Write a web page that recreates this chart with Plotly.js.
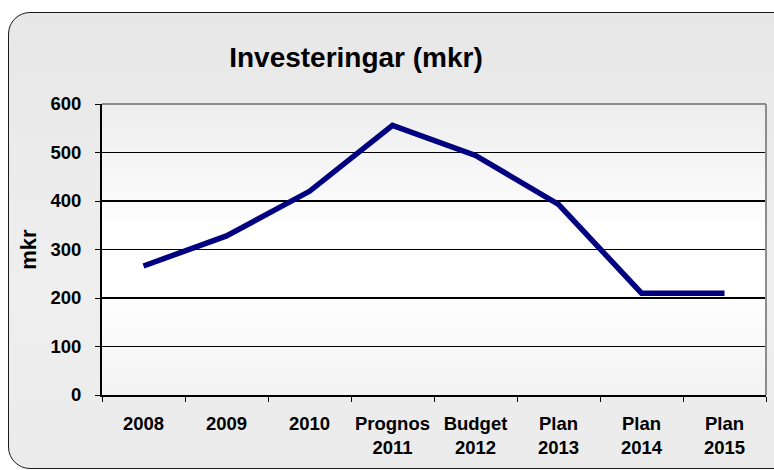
<!DOCTYPE html>
<html>
<head>
<meta charset="utf-8">
<script src="https://cdn.plot.ly/plotly-3.0.1.min.js"></script>
<style>
  html, body { margin: 0; padding: 0; background: #ffffff; }
  #wrap { position: relative; width: 774px; height: 470px; overflow: hidden; }
  #frame {
    position: absolute; left: 8px; top: 12px; width: 790px; height: 455px;
    border: 1.5px solid #1a1a1a; border-radius: 22px;
    background: linear-gradient(#e7e7e7, #efefef 60%, #ebebeb);
  }
  #plotbg {
    position: absolute; left: 102px; top: 104px; width: 664px; height: 291px;
    background: linear-gradient(#ededed, #ffffff 45%, #ffffff 65%, #f3f3f3);
  }
  #chart { position: absolute; left: 0; top: 0; width: 774px; height: 470px; }
</style>
</head>
<body>
<div id="wrap">
  <div id="frame"></div>
  <div id="plotbg"></div>
  <div id="chart"></div>
</div>
<script>
// Investeringar (mkr)
const categories = ["2008", "2009", "2010", "Prognos<br>2011", "Budget<br>2012",
  "Plan<br>2013", "Plan<br>2014", "Plan<br>2015"];
const values = [266, 328, 420, 556, 494, 393, 210, 210];
const yTicks = [0, 100, 200, 300, 400, 500, 600];

const chartEl = document.getElementById("chart");
const FONT = "Liberation Sans, Arial, sans-serif";

const data = [
  {
    x: categories,
    y: values,
    type: "scatter",
    mode: "lines",
    line: { color: "#000080", width: 5.5 },
    hoverinfo: "skip",
  },
];

const layout = {
  width: 774,
  height: 470,
  margin: { l: 102, r: 8, t: 104, b: 75 },
  paper_bgcolor: "rgba(0,0,0,0)",
  plot_bgcolor: "rgba(0,0,0,0)",
  showlegend: false,
  font: { family: FONT, color: "#000000" },
  title: {
    text: "<b>Investeringar (mkr)</b>",
    font: { family: FONT, size: 28, color: "#000000" },
    x: 356 / 774,
    xanchor: "center",
    y: 1 - 57 / 470,
    yanchor: "middle",
  },
  xaxis: {
    type: "category",
    range: [-0.5, 7.5],
    showgrid: false,
    showline: true,
    linecolor: "#000000",
    linewidth: 2,
    ticks: "outside",
    tickson: "boundaries",
    ticklen: 5,
    tickcolor: "#000000",
    tickwidth: 1,
    tickangle: 0,
    tickfont: { family: FONT, size: 18.5, color: "#000000" },
    ticklabelstandoff: 11,
    zeroline: false,
  },
  yaxis: {
    range: [0, 600],
    tickvals: yTicks,
    ticktext: yTicks.map((v) => "<b>" + v + "</b>"),
    showgrid: true,
    gridcolor: "#000000",
    gridwidth: 1.3,
    showline: true,
    linecolor: "#000000",
    linewidth: 2,
    ticks: "outside",
    ticklen: 5,
    tickcolor: "#000000",
    tickfont: { family: FONT, size: 18.5, color: "#000000" },
    ticklabelstandoff: 10,
    zeroline: false,
    title: {
      text: "<b>mkr</b>",
      font: { family: FONT, size: 22, color: "#000000" },
      standoff: 8,
    },
  },
  shapes: [
    // gray top and right border of plot area
    { type: "line", xref: "paper", yref: "paper", x0: 0, x1: 1, y0: 1, y1: 1,
      line: { color: "#8c8c8c", width: 2 } },
    { type: "line", xref: "paper", yref: "paper", x0: 1, x1: 1, y0: 0, y1: 1,
      line: { color: "#8c8c8c", width: 2 } },
  ],
};

// bold category labels
layout.xaxis.tickvals = categories;
layout.xaxis.ticktext = categories.map((c) =>
  c.split("<br>").map((s) => "<b>" + s + "</b>").join("<br>")
);

Plotly.newPlot(chartEl, data, layout, { staticPlot: true, displayModeBar: false });
</script>
</body>
</html>
